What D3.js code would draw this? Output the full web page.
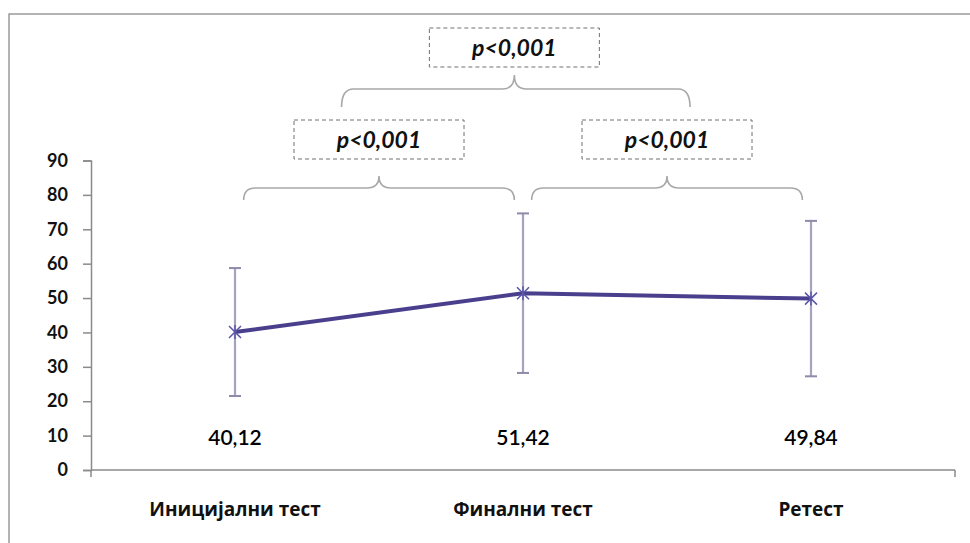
<!DOCTYPE html>
<html>
<head>
<meta charset="utf-8">
<script src="https://cdn.jsdelivr.net/npm/d3@7"></script>
<style>
  body { margin: 0; background: #fff; }
  svg { display: block; }
</style>
</head>
<body>
<div id="chart"></div>
<script>
// data
var categories = ["Иницијални тест", "Финални тест", "Ретест"];
var means = [40.12, 51.42, 49.84];
var sds = [18.6, 23.2, 22.6];
var valueLabels = ["40,12", "51,42", "49,84"];
var yTicks = [0, 10, 20, 30, 40, 50, 60, 70, 80, 90];
var pLabels = ["p<0,001", "p<0,001", "p<0,001"];

var W = 970, H = 543;

var svg = d3.select("#chart")
  .append("svg")
    .attr("width", W)
    .attr("height", H);

// outer chart frame (runs off the right and bottom edge)
svg.append("rect")
  .attr("x", 9).attr("y", 14)
  .attr("width", W).attr("height", H)
  .attr("fill", "none")
  .attr("stroke", "#9a9a9a")
  .attr("stroke-width", 1.5);

var x = d3.scalePoint()
  .domain(categories)
  .range([91, 955])
  .padding(0.5);

var y = d3.scaleLinear()
  .domain([0, 90])
  .range([470, 160.5]);

// Y axis
var yAxis = svg.append("g")
  .attr("transform", "translate(91,0)")
  .call(d3.axisLeft(y).tickValues(yTicks).tickSize(8).tickPadding(15));
yAxis.select(".domain").attr("stroke", "#8a8a8a").attr("stroke-width", 1.5);
yAxis.selectAll(".tick line").attr("stroke", "#8a8a8a").attr("stroke-width", 1.5);
yAxis.selectAll(".tick text")
  .attr("fill", "#111")
  .style("font-family", "Lato, 'Open Sans', sans-serif")
  .style("font-weight", "bold")
  .style("font-size", "18px");

// X axis line + end ticks
var xAxis = svg.append("g").attr("transform", "translate(0," + y(0) + ")");
xAxis.append("line")
  .attr("x1", 91).attr("x2", 955)
  .attr("stroke", "#8a8a8a").attr("stroke-width", 1.5);
xAxis.selectAll("line.tk")
  .data([91, 955])
  .enter().append("line")
    .attr("class", "tk")
    .attr("x1", function (d) { return d; })
    .attr("x2", function (d) { return d; })
    .attr("y1", 0).attr("y2", 7)
    .attr("stroke", "#8a8a8a").attr("stroke-width", 1.5);

// category labels
svg.append("g")
  .selectAll("text")
  .data(categories)
  .enter().append("text")
    .attr("x", function (d) { return x(d); })
    .attr("y", 516)
    .attr("text-anchor", "middle")
    .attr("fill", "#111")
    .style("font-family", "'Open Sans', 'Noto Sans', sans-serif")
    .style("font-weight", "bold")
    .style("font-size", "19px")
    .text(function (d) { return d; });

// error bars
var eb = svg.append("g")
  .selectAll("g")
  .data(categories)
  .enter().append("g");
eb.append("line")
  .attr("x1", function (d) { return x(d); })
  .attr("x2", function (d) { return x(d); })
  .attr("y1", function (d, i) { return y(means[i] + sds[i]); })
  .attr("y2", function (d, i) { return y(means[i] - sds[i]); })
  .attr("stroke", "#a5a3bd").attr("stroke-width", 2.2);
eb.selectAll("line.cap")
  .data(function (d, i) { return [[d, means[i] + sds[i]], [d, means[i] - sds[i]]]; })
  .enter().append("line")
    .attr("class", "cap")
    .attr("x1", function (d) { return x(d[0]) - 6; })
    .attr("x2", function (d) { return x(d[0]) + 6; })
    .attr("y1", function (d) { return y(d[1]); })
    .attr("y2", function (d) { return y(d[1]); })
    .attr("stroke", "#8e8aa8").attr("stroke-width", 2);

// mean line
var line = d3.line()
  .x(function (d, i) { return x(categories[i]); })
  .y(function (d) { return y(d); });
svg.append("path")
  .datum(means)
  .attr("d", line)
  .attr("fill", "none")
  .attr("stroke", "#4a3f8c")
  .attr("stroke-width", 4);

// star markers
svg.append("g")
  .selectAll("path")
  .data(means)
  .enter().append("path")
    .attr("transform", function (d, i) { return "translate(" + x(categories[i]) + "," + y(d) + ")"; })
    .attr("d", "M-6,-6L6,6M-6,6L6,-6M0,-7L0,7")
    .attr("stroke", "#5a55a8")
    .attr("stroke-width", 1.5);

// value labels
svg.append("g")
  .selectAll("text")
  .data(valueLabels)
  .enter().append("text")
    .attr("x", function (d, i) { return x(categories[i]); })
    .attr("y", y(9.5) + 8)
    .attr("text-anchor", "middle")
    .attr("fill", "#000")
    .style("font-family", "Lato, 'Open Sans', sans-serif")
    .style("font-weight", "600")
    .style("font-size", "21px")
    .text(function (d) { return d; });

// significance braces: position along the category index
var xi = d3.scaleLinear().domain([0, 2]).range([x(categories[0]), x(categories[2])]);
var braces = [
  { from: 0.03, to: 0.97, mid: 0.5, yEnd: 200, yLine: 188, yTip: 176, boxTop: 120 },
  { from: 1.03, to: 1.97, mid: 1.5, yEnd: 200, yLine: 188, yTip: 176, boxTop: 120 },
  { from: 0.37, to: 1.58, mid: 0.97, yEnd: 107, yLine: 89, yTip: 75, boxTop: 28 }
];

function bracePath(b) {
  var x1 = xi(b.from), x2 = xi(b.to), xc = xi(b.mid), r = 12;
  return "M" + x1 + "," + b.yEnd +
    "Q" + x1 + "," + b.yLine + " " + (x1 + r) + "," + b.yLine +
    "L" + (xc - r) + "," + b.yLine +
    "Q" + xc + "," + b.yLine + " " + xc + "," + b.yTip +
    "Q" + xc + "," + b.yLine + " " + (xc + r) + "," + b.yLine +
    "L" + (x2 - r) + "," + b.yLine +
    "Q" + x2 + "," + b.yLine + " " + x2 + "," + b.yEnd;
}

var ann = svg.append("g")
  .selectAll("g")
  .data(braces)
  .enter().append("g");

ann.append("path")
  .attr("d", bracePath)
  .attr("fill", "none")
  .attr("stroke", "#a8a8a8")
  .attr("stroke-width", 1.6);

ann.append("rect")
  .attr("x", function (d) { return xi(d.mid) - 85; })
  .attr("y", function (d) { return d.boxTop; })
  .attr("width", 170)
  .attr("height", 39)
  .attr("fill", "#fff")
  .attr("stroke", "#707070")
  .attr("stroke-width", 1)
  .attr("stroke-dasharray", "4,3");

ann.append("text")
  .attr("x", function (d) { return xi(d.mid); })
  .attr("y", function (d) { return d.boxTop + 28; })
  .attr("text-anchor", "middle")
  .attr("fill", "#111")
  .style("font-family", "Lato, 'Open Sans', sans-serif")
  .style("font-weight", "bold")
  .style("font-style", "italic")
  .style("font-size", "23px")
  .text(function (d, i) { return pLabels[i]; });
</script>
</body>
</html>
